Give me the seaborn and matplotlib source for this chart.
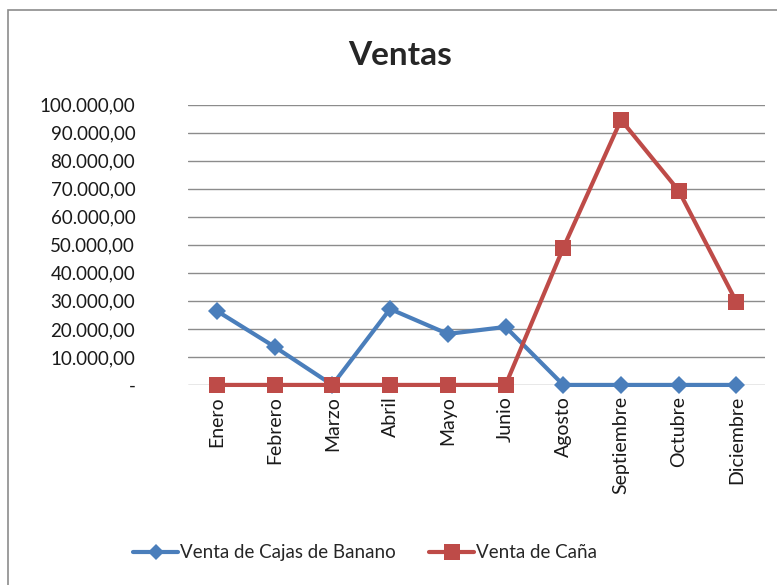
import matplotlib
matplotlib.use("Agg")
import matplotlib.pyplot as plt
import matplotlib.ticker as mticker
from matplotlib.patches import Rectangle
import pandas as pd
import seaborn as sns

meses = ["Enero", "Febrero", "Marzo", "Abril", "Mayo", "Junio",
         "Agosto", "Septiembre", "Octubre", "Diciembre"]
banano = [26400, 13600, 0, 27100, 18200, 20700, 0, 0, 0, 0]
cana = [0, 0, 0, 0, 0, 0, 48900, 94600, 69300, 29600]
series = ["Venta de Cajas de Banano", "Venta de Caña"]
colores = ["#4a7ebb", "#be4b48"]
marcadores = ["D", "s"]

df = pd.DataFrame({
    "mes": meses * 2,
    "valor": banano + cana,
    "serie": [series[0]] * len(meses) + [series[1]] * len(meses),
})

sns.set_style("white")
plt.rcParams["font.family"] = ["Lato", "DejaVu Sans"]

fig = plt.figure(figsize=(7.77, 5.85), dpi=100)
fig.patches.append(Rectangle((8 / 777, -0.01), 1.0, 1 - 10 / 585 + 0.01,
                             transform=fig.transFigure, fill=False,
                             edgecolor="#8c8c8c", linewidth=1.2))
ax = fig.add_axes([0.242, 0.342, 0.743, 0.479])

sns.lineplot(data=df, x="mes", y="valor", hue="serie", style="serie",
             palette=colores, markers=marcadores, dashes=False, sort=False,
             linewidth=3, markersize=10, markeredgewidth=0, ax=ax, legend=False)
# diamond smaller than square
for line, ms in zip(ax.lines, [9, 12]):
    line.set_markersize(ms)
    line.set_clip_on(False)

ax.set_ylim(0, 100000)
ax.set_xlim(-0.5, len(meses) - 0.5)
ax.yaxis.set_major_locator(mticker.MultipleLocator(10000))


def fmt(v, pos):
    if v == 0:
        return "-"
    return f"{v:,.2f}".replace(",", "X").replace(".", ",").replace("X", ".")


ax.yaxis.set_major_formatter(mticker.FuncFormatter(fmt))
ax.grid(axis="y", color="#8c8c8c", linewidth=1)
ax.set_axisbelow(True)
for s in ax.spines.values():
    s.set_visible(False)
ax.tick_params(axis="y", labelsize=13.5, length=0, pad=38, labelcolor="#1a1a1a")
ax.tick_params(axis="x", labelsize=14, length=0, pad=8, labelcolor="#1a1a1a")
ax.set_xticks(range(len(meses)))
ax.set_xticklabels(meses, rotation=90)
ax.set_xlabel("")
ax.set_ylabel("")

fig.text(0.515, 0.905, "Ventas", ha="center", va="center",
         fontsize=24, fontweight="bold")

handles = [plt.Line2D([], [], color=c, marker=m, linewidth=3,
                      markersize=ms, markeredgewidth=0)
           for c, m, ms in zip(colores, marcadores, [8, 12])]
fig.legend(handles, series, loc="center", bbox_to_anchor=(0.47, 0.055),
           ncol=2, frameon=False, fontsize=13.5, handlelength=2.4,
           columnspacing=1.8, handletextpad=0.1)

fig.savefig("out.png", dpi=100)
